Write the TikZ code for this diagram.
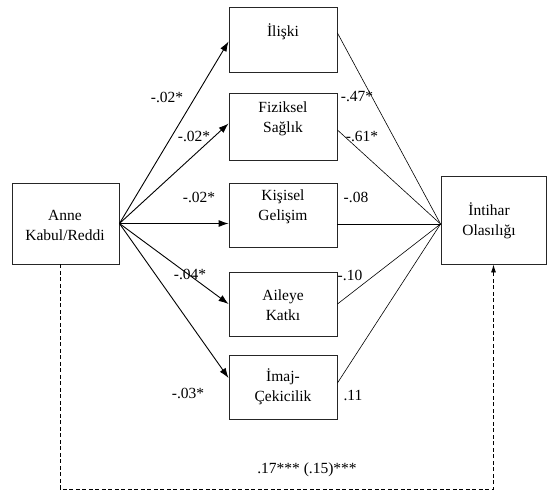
\documentclass[tikz,border=0pt]{standalone}
\usepackage{fontspec}
\setmainfont{Liberation Serif}
\usetikzlibrary{arrows.meta, positioning}
\tikzset{%
	every box/.style={
		draw=black!85,
		line width=0.9pt,
		inner sep=0pt
	},
	boxtext/.style={
		align=center,
		inner sep=0pt,
		font=\fontsize{15.5}{20}\selectfont
	},
	coef/.style={
		inner sep=0pt,
		font=\fontsize{15.5}{18}\selectfont
	},
	path arrow/.style={
		line width=0.9pt,
		-{Latex[length=10pt,width=7pt]}
	},
	path line/.style={
		line width=0.6pt
	},
}

\begin{document}
\begin{tikzpicture}[x=1pt,y=-1pt]
			\useasboundingbox (0,0) rectangle (547,491);
			
			% Draw the predictor and outcome boxes
			\node[every box, minimum width=107pt, minimum height=81pt] (anne) at (65.5,223.5) {};
			\node[boxtext] (anneT) at (65,225) {Anne\\Kabul/Reddi};
			\node[every box, minimum width=105pt, minimum height=88pt] (intihar) at (493.5,220) {};
			\node[boxtext] (intiharT) at (489,221) {İntihar\\Olasılığı};
			
			% Draw the mediator boxes
			\node[every box, minimum width=108pt, minimum height=65pt] (iliski) at (283,39.5) {};
			\node[every box, minimum width=108pt, minimum height=67pt] (fiziksel) at (283,126.5) {};
			\node[every box, minimum width=108pt, minimum height=64pt] (kisisel) at (283,215) {};
			\node[every box, minimum width=108pt, minimum height=64pt] (aileye) at (283,304) {};
			\node[every box, minimum width=108pt, minimum height=64pt] (imaj) at (283,387) {};
			
			\node[boxtext] (iliskiT) at (283,32) {İlişki};
			\node[boxtext] (fizikselT) at (283,119) {Fiziksel\\Sağlık};
			\node[boxtext] (kisiselT) at (283,207) {Kişisel\\Gelişim};
			\node[boxtext] (aileyeT) at (283,305) {Aileye\\Katkı};
			\node[boxtext] (imajT) at (283,387) {İmaj-\\Çekicilik};
			
			% Draw arrows from predictor to mediators
			\draw[path arrow] (anne.east) -- ([yshift=-2pt]iliski.west);
			\draw[path arrow] (anne.east) -- ([yshift=3pt]fiziksel.west);
			\draw[path arrow] (anne.east) -- (kisisel.west |- anne.east);
			\draw[path arrow] (anne.east) -- (aileye.west);
			\draw[path arrow] (anne.east) -- ([yshift=9pt]imaj.west);
			
			% Draw lines from mediators to outcome
			\coordinate (conv) at ([yshift=-4pt]intihar.west);
			\draw[path line] ([yshift=6.5pt]iliski.east) -- (conv);
			\draw[path line] ([yshift=-3.5pt]fiziksel.east) -- (conv);
			\draw[path line] (kisisel.east |- conv) -- (conv);
			\draw[path line] (aileye.east) -- (conv);
			\draw[path line] ([yshift=4pt]imaj.east) -- (conv);
			
			% Coefficients
			\node[coef] (a1) at (167,97) {-.02*};
			\node[coef] (a2) at (194,136) {-.02*};
			\node[coef] (a3) at (199,197) {-.02*};
			\node[coef] (a4) at (190,274) {-.04*};
			\node[coef] (a5) at (188,393) {-.03*};
			\node[coef] (b1) at (357,97) {-.47*};
			\node[coef] (b2) at (362,136) {-.61*};
			\node[coef] (b3) at (356,197) {-.08};
			\node[coef] (b4) at (350,275) {-.10};
			\node[coef] (b5) at (353,395) {.11};
			
			% Direct path (dashed)
			\coordinate (dl) at (60,489);
			\coordinate (dr) at (intihar.south |- dl);
			\draw[dashed, dash pattern=on 4pt off 2.5pt, line width=0.8pt, -{Latex[length=8pt,width=5pt]}]
				(anne.south -| dl) -- (dl) -- (dr) -- (intihar.south);
			\node[coef] (c) at (307,470) {.17*** (.15)***};
			
		\end{tikzpicture}
\end{document}
